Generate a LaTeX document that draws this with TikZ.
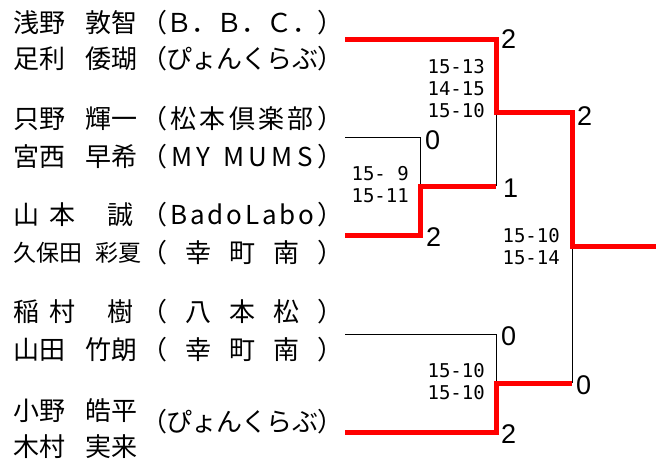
\documentclass[tikz,border=0pt]{standalone}
\usepackage{fontspec}
\setmainfont{Noto Sans CJK JP}
\newfontfamily\digitfont{Liberation Sans}
\newfontfamily\gamefont{DejaVu Sans Mono}
\usepackage{tikz}

\newcommand\evenly[2]{\makebox[#1][s]{\evenlyfirst#2\relax}}
\def\evenlyfirst#1{#1\evenlynext}
\def\evenlynext#1{\ifx\relax#1\else\hskip 0pt plus 1fil minus 1fil\relax#1\expandafter\evenlynext\fi}
\newcommand\gap[1][20pt]{\hspace{#1}}

\begin{document}
\begin{tikzpicture}[x=1pt, y=-1pt,
  player/.style={anchor=west, inner sep=0pt, font=\fontsize{26pt}{30pt}\selectfont},
  club/.style={anchor=west, inner sep=0pt, font=\fontsize{26pt}{30pt}\selectfont},
  games/.style={anchor=east, inner sep=0pt, align=right, font=\gamefont\fontsize{19pt}{22pt}\selectfont},
  pts/.style={anchor=west, inner sep=0pt, font=\digitfont\fontsize{27pt}{27pt}\selectfont},
  win/.style={red, line width=5pt},
  lose/.style={black, line width=1pt}]
\useasboundingbox (0,0) rectangle (656,466);

\node[player] (n1) at (13,23) {浅野\gap 敦智};
\node[player] (n2) at (13,59) {足利\gap 倭瑚};
\node[player] (n3) at (13,119) {只野\gap 輝一};
\node[player] (n4) at (13,157) {宮西\gap 早希};
\node[player] (n5) at (13,215) {山\gap[10pt]本\gap[32pt]誠};
\node[player] (n6) at (13,253) {\fontsize{23pt}{23pt}\selectfont 久保田\gap[13pt]彩夏};
\node[player] (n7) at (13,312) {稲\gap[10pt]村\gap[32pt]樹};
\node[player] (n8) at (13,350) {山田\gap 竹朗};
\node[player] (n9) at (13,411) {小野\gap 皓平};
\node[player] (n10) at (13,447) {木村\gap 実来};

\node[club] (c1) at (141,23) {\evenly{202pt}{（Ｂ．Ｂ．Ｃ．）}};
\node[club] (c2) at (141,59) {\evenly{202pt}{（ぴょんくらぶ）}};
\node[club] (c3) at (141,119) {\evenly{202pt}{（松本倶楽部）}};
\node[club] (c4) at (141,157) {\evenly{202pt}{（MY{\gap[4pt]}MUMS）}};
\node[club] (c5) at (141,215) {\evenly{202pt}{（BadoLabo）}};
\node[club] (c6) at (141,253) {\evenly{202pt}{（幸町南）}};
\node[club] (c7) at (141,312) {\evenly{202pt}{（八本松）}};
\node[club] (c8) at (141,350) {\evenly{202pt}{（幸町南）}};
\node[club] (c9) at (141,422) {\evenly{202pt}{（ぴょんくらぶ）}};

\coordinate (e1) at (345,39);
\coordinate (e2) at (345,137);
\coordinate (e3) at (345,235);
\coordinate (e4) at (345,334);
\coordinate (e5) at (345,432);
\coordinate (m23) at (420,186);
\coordinate (j23) at (496,186);
\coordinate (m1) at (496,112);
\coordinate (m45) at (496,383);
\coordinate (j45) at (572,383);
\coordinate (mf) at (572,246);
\coordinate (champ) at (656,246);

\draw[lose] (e2) -| (m23);
\draw[lose] (j23) -- (m1);
\draw[lose] (e4) -| (m45);
\draw[lose] (j45) -- (mf);
\draw[win] (e3) -| (m23) -- (j23);
\draw[win] (e1) -| (m1) -| (mf) -- (champ);
\draw[win] (e5) -| (m45) -- (j45);

\node[games] (g1) at (485,89) {15-13\\14-15\\15-10};
\node[games] (g23) at (409,185) {15-\ 9\\15-11};
\node[games] (g45) at (485,382) {15-10\\15-10};
\node[games] (gf) at (560,247) {15-10\\15-14};

\node[pts] (p1) at (501,39) {2};
\node[pts] (p2) at (425,140) {0};
\node[pts] (p3) at (426,237) {2};
\node[pts] (p23) at (503,188) {1};
\node[pts] (p1f) at (577,116) {2};
\node[pts] (p4) at (501,336) {0};
\node[pts] (p5) at (501,434) {2};
\node[pts] (p45) at (576,385) {0};
\end{tikzpicture}
\end{document}
